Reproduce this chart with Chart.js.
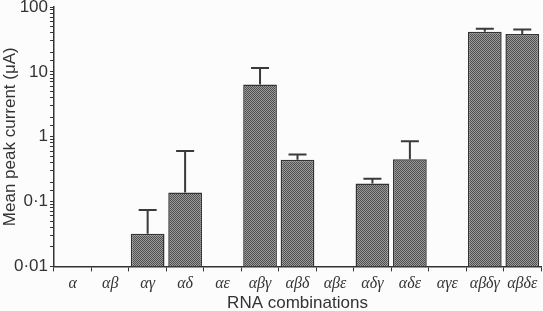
<!DOCTYPE html>
<html>
<head>
<meta charset="utf-8">
<script src="https://cdn.jsdelivr.net/npm/chart.js@4/dist/chart.umd.min.js"></script>
<style>
  html, body { margin: 0; padding: 0; background: #fcfcfc; }
  #wrap { width: 543px; height: 311px; }
</style>
</head>
<body>
<div id="wrap"><canvas id="chart" width="543" height="311"></canvas></div>
<script>
// RNA combinations and mean peak current (uA), upper error bar ends
const categories = ["α", "αβ", "αγ", "αδ", "αε", "αβγ", "αβδ", "αβε", "αδγ", "αδε", "αγε", "αβδγ", "αβδε"];
const meanCurrent = [null, null, 0.032, 0.138, null, 6.4, 0.44, null, 0.19, 0.45, null, 41.5, 38.5];
const errorTop = [null, null, 0.074, 0.6, null, 11.5, 0.53, null, 0.225, 0.85, null, 46, 45];
const yTickValues = [0.01, 0.1, 1, 10, 100];

// crosshatch-like fill for the bars
const makePattern = () => {
  const c = document.createElement("canvas");
  c.width = 2;
  c.height = 2;
  const g = c.getContext("2d");
  g.fillStyle = "#9a9a9a";
  g.fillRect(0, 0, 2, 2);
  g.fillStyle = "#505050";
  g.fillRect(0, 0, 1, 1);
  g.fillRect(1, 1, 1, 1);
  return g.createPattern(c, "repeat");
};

const errorBars = {
  id: "errorBars",
  afterDatasetsDraw(chart) {
    const ctx = chart.ctx;
    const meta = chart.getDatasetMeta(0);
    const y = chart.scales.y;
    ctx.save();
    ctx.strokeStyle = "#3a3a3a";
    ctx.lineWidth = 2;
    errorTop.forEach((v, i) => {
      if (v == null || meanCurrent[i] == null) return;
      const bar = meta.data[i];
      const yt = y.getPixelForValue(v);
      ctx.beginPath();
      ctx.moveTo(bar.x, bar.y);
      ctx.lineTo(bar.x, yt);
      ctx.moveTo(bar.x - 9, yt);
      ctx.lineTo(bar.x + 9, yt);
      ctx.stroke();
    });
    ctx.restore();
  },
};

new Chart(document.getElementById("chart"), {
  type: "bar",
  data: {
    labels: categories,
    datasets: [
      {
        data: meanCurrent,
        backgroundColor: makePattern(),
        borderColor: "#333",
        borderWidth: 1.5,
        barPercentage: 0.9,
        categoryPercentage: 1,
      },
    ],
  },
  options: {
    responsive: false,
    animation: false,
    layout: { padding: { top: 0, right: 2, left: 0, bottom: 0 } },
    plugins: {
      legend: { display: false },
      tooltip: { enabled: false },
    },
    scales: {
      x: {
        grid: {
          display: true,
          drawOnChartArea: false,
          offset: true,
          tickLength: 5,
          color: "#333",
        },
        border: { color: "#333", width: 1.5 },
        ticks: {
          color: "#333",
          padding: 3,
          maxRotation: 0,
          autoSkip: false,
          font: { family: "'Liberation Serif', 'DejaVu Serif', serif", style: "italic", size: 16 },
        },
        title: {
          display: true,
          text: "RNA combinations",
          color: "#333",
          padding: { top: -3, bottom: -3 },
          font: { family: "'Liberation Sans', Arial, sans-serif", size: 17 },
        },
      },
      y: {
        type: "logarithmic",
        min: 0.01,
        max: 100,
        afterFit: (scale) => {
          scale.width = 54;
          scale.paddingTop = 7;
        },
        grid: {
          display: true,
          drawOnChartArea: false,
          tickLength: 4,
          color: "#333",
        },
        border: { color: "#333", width: 1.5 },
        ticks: {
          color: "#333",
          autoSkip: false,
          padding: 2,
          font: { family: "'Liberation Sans', Arial, sans-serif", size: 17 },
          callback: (v) => {
            const hit = yTickValues.find((t) => Math.abs(t - v) / t < 1e-6);
            return hit === undefined ? "" : String(hit).replace(".", "·");
          },
        },
        title: {
          display: true,
          text: "Mean peak current (μA)",
          color: "#333",
          padding: { top: 0, bottom: 0 },
          font: { family: "'Liberation Sans', Arial, sans-serif", size: 17 },
        },
      },
    },
  },
  plugins: [errorBars],
});
</script>
</body>
</html>
